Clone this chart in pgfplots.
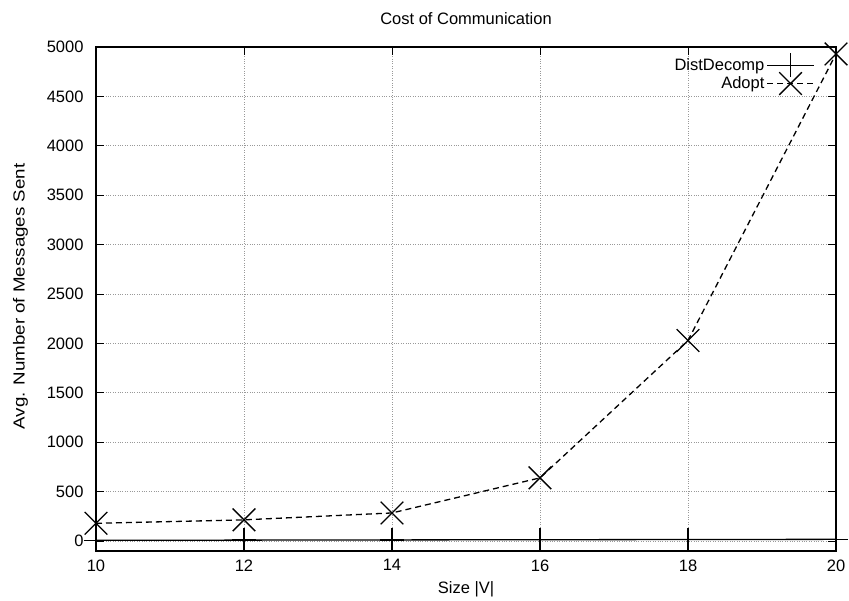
\documentclass[border=0pt]{standalone}
\usepackage{pgfplots}
\pgfplotsset{compat=1.18}
\usepackage{fontspec}
\setmainfont{Liberation Sans}
\newfontfamily\stretchedfont[FakeStretch=1.17]{Liberation Sans}
\begin{document}
\begin{tikzpicture}[x=1pt,y=1pt]
\path[use as bounding box] (0,0) rectangle (849,601);
\begin{axis}[
  at={(96pt,50pt)}, anchor=south west,
  scale only axis, width=740pt, height=504pt,
  xmin=10, xmax=20, ymin=-100, ymax=5000,
  xtick={10,12,...,20}, ytick={0,500,...,5000},
  /pgf/number format/assume math mode=true,
  /pgf/number format/set thousands separator={},
  font=\fontsize{16.5}{18}\selectfont,
  tick label style={font=\fontsize{16.5}{18}\selectfont},
  yticklabel style={xshift=-9pt},
  xticklabel style={yshift=-5pt},
  title={Cost of Communication},
  title style={at={(0.5,1)}, above, yshift=13pt},
  xlabel={Size |V|},
  ylabel={Avg. Number of Messages Sent},
  xlabel style={yshift=-3pt},
  ylabel style={at={(ticklabel cs:0.505)}, yshift=12pt, font=\stretchedfont\fontsize{16}{18}\selectfont},
  grid=major,
  major grid style={dotted, gray!80, line width=0.8pt},
  tick align=inside, major tick length=8pt,
  tick style={black, line width=1pt},
  axis line style={line width=1.3pt},
  legend style={draw=none, fill=none, at={(0.9715,0.988)}, anchor=north east,
    legend cell align=right, font=\fontsize{16.5}{18}\selectfont,
    row sep=-5pt, inner sep=0pt},
  legend plot pos=right,
  legend image code/.code={
    \draw[#1] (8pt,0pt) -- (55pt,0pt);
    \draw[#1,only marks] plot coordinates {(31.5pt,0pt)};
  },
]
\addplot[black, line width=1.3pt, mark=+, mark size=12pt,
  mark options={solid, line width=1.3pt}]
  coordinates {(10,8) (12,10) (14,12) (16,14) (18,16) (20,18)};
\addlegendentry{DistDecomp}
\addplot[black, line width=1.3pt, dash pattern=on 6pt off 4pt, mark=x, mark size=16pt,
  mark options={solid, line width=1.3pt}]
  coordinates {(10,180) (12,215) (14,285) (16,640) (18,2030) (20,4930)};
\addlegendentry{Adopt}
\end{axis}
\end{tikzpicture}
\end{document}
